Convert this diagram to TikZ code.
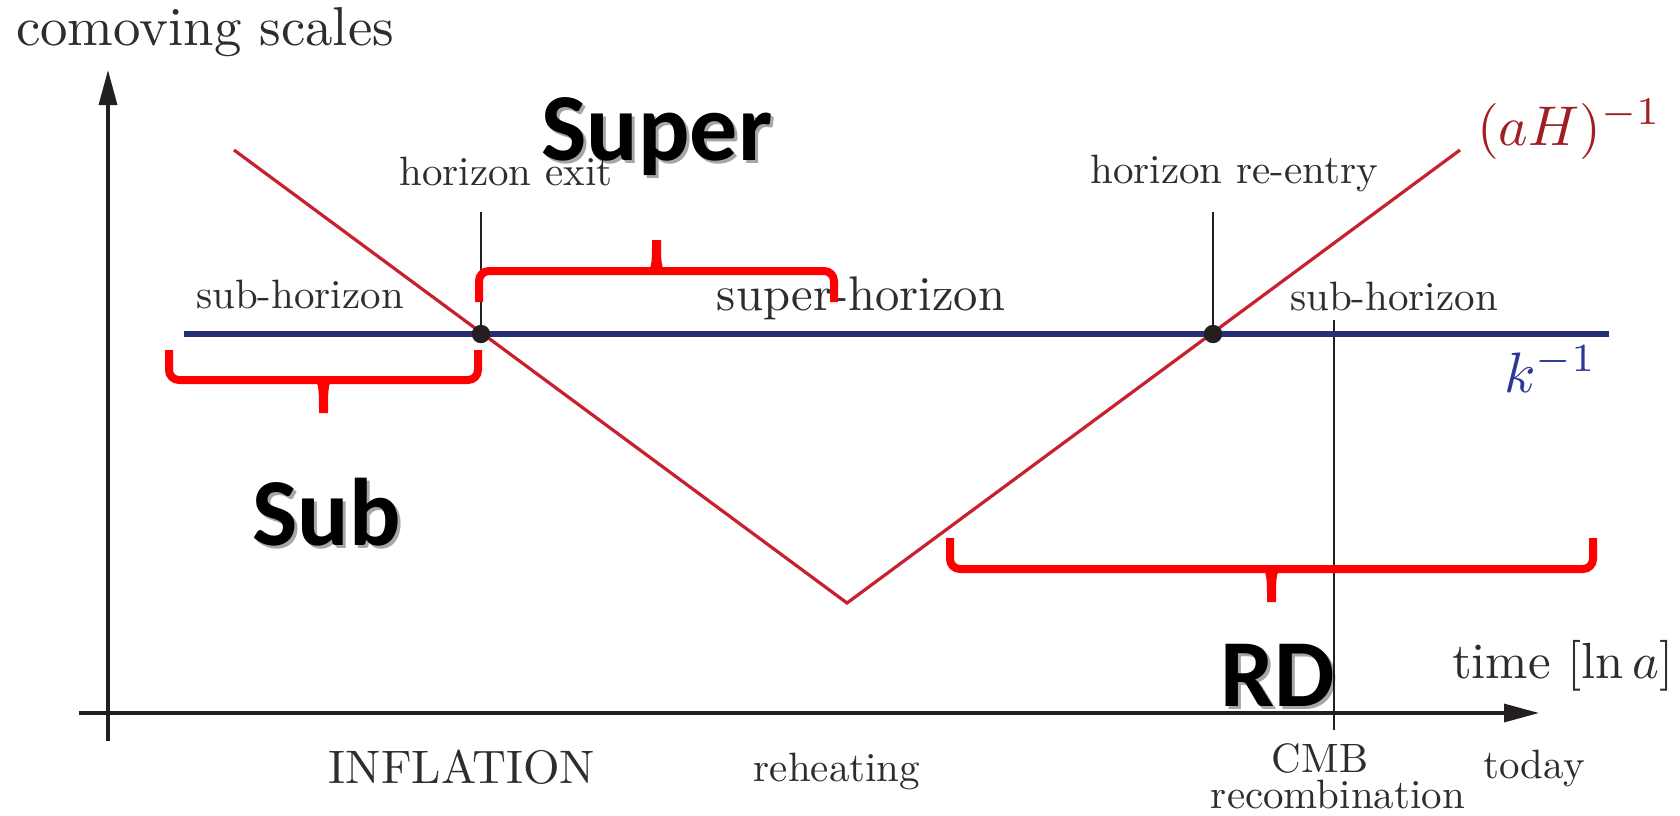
\documentclass[tikz,border=0pt]{standalone}
\usepackage{fontspec}
\newfontfamily\calib{Carlito}
\usetikzlibrary{arrows.meta}
\definecolor{hred}{RGB}{200,32,45}
\definecolor{hredtext}{RGB}{160,30,36}
\definecolor{kblue}{RGB}{40,46,120}
\definecolor{kbluetext}{RGB}{45,55,150}
\definecolor{axisgray}{RGB}{35,31,32}
\definecolor{txtgray}{RGB}{45,45,45}
\definecolor{bracered}{RGB}{255,0,0}
\newcommand{\redbrace}[5]{%
  \draw[bracestyle] (#1,#3) -- (#1,#4) -- (#2,#4) -- (#2,#3);
  \fill[bracered] ({(#1+#2)/2-11},#4) .. controls ({(#1+#2)/2-4.5},#4) and ({(#1+#2)/2-4.5},{#4+0.3*(#5-#4)}) .. ({(#1+#2)/2-4.5},#5)
     -- ({(#1+#2)/2+4.5},#5) .. controls ({(#1+#2)/2+4.5},{#4+0.3*(#5-#4)}) and ({(#1+#2)/2+4.5},#4) .. ({(#1+#2)/2+11},#4) -- cycle;
}
\begin{document}
\begin{tikzpicture}[x=0.5pt,y=-0.5pt,
  axisline/.style={draw=axisgray, line width=1.65pt, -{Triangle[length=17.5pt,width=9pt]}},
  hline/.style={draw=hred, line width=1.6pt},
  kline/.style={draw=kblue, line width=3pt},
  thinline/.style={draw=axisgray, line width=0.9pt},
  dotstyle/.style={fill=axisgray},
  bracestyle/.style={draw=bracered, line width=4pt, rounded corners=5pt},
  lbl/.style={inner sep=0pt, text=txtgray, anchor=base, scale=2.05},
  bigbold/.style={inner sep=0pt, anchor=base west, font=\calib\bfseries\fontsize{48}{50}\selectfont},
  shadowtxt/.style={bigbold, text=black, opacity=0.35}
]
\useasboundingbox (0,0) rectangle (1680,815);

% coordinates
\coordinate (yb) at (108,741);
\coordinate (yt) at (108,70);
\coordinate (xl) at (79,713);
\coordinate (xr) at (1539,713);
\coordinate (r1) at (234,150);
\coordinate (rv) at (847,603);
\coordinate (r2) at (1460,150);
\coordinate (b1) at (184,334);
\coordinate (b2) at (1609,334);
\coordinate (exitdot) at (481,334);
\coordinate (exittop) at (481,212);
\coordinate (redot) at (1213,334);
\coordinate (retop) at (1213,212);
\coordinate (cmbtop) at (1334,320);
\coordinate (cmbbot) at (1334,730);

% axes
\draw[axisline] (yb) -- (yt);
\draw[axisline] (xl) -- (xr);

% thin markers
\draw[thinline] (exittop) -- (exitdot);
\draw[thinline] (retop) -- (redot);
\draw[thinline] (cmbtop) -- (cmbbot);

% curves
\draw[hline] (r1) -- (rv) -- (r2);
\draw[kline] (b1) -- (b2);
\fill[dotstyle] (exitdot) circle (4.6pt);
\fill[dotstyle] (redot) circle (4.6pt);

% labels
\node[inner sep=0pt, text=txtgray, anchor=base west, scale=2.74] (comov) at (15,45) {comoving scales};
\node[lbl] (hexit) at (506,185) {horizon exit};
\node[lbl] (hreentry) at (1234,183) {horizon re-entry};
\node[lbl] (subl) at (300,308) {sub-horizon};
\node[lbl, scale=2.43/2.05] (superh) at (861,310) {super-horizon};
\node[lbl] (subr) at (1394,310) {sub-horizon};
\node[inner sep=0pt, anchor=base west, text=hredtext, scale=2.8] (aH) at (1476,145) {$(aH)^{-1}$};
\node[inner sep=0pt, anchor=base west, text=kbluetext, scale=2.85] (kinv) at (1503,392) {$k^{-1}$};
\node[inner sep=0pt, anchor=base west, text=txtgray, scale=2.54] (timelbl) at (1451,678) {time $[\ln a]$};
\node[lbl, scale=2.35/2.05] (infl) at (462,783) {INFLATION};
\node[lbl] (reheat) at (837,781) {reheating};
\node[lbl] (cmb) at (1320,772) {CMB};
\node[lbl] (recomb) at (1338,808) {recombination};
\node[lbl] (today) at (1534,778) {today};

% red braces
\redbrace{169}{478}{350}{380}{413}
\redbrace{479}{834}{302}{271}{240}
\redbrace{950}{1593}{538}{569}{602}

% bold annotations with soft shadow
\node[shadowtxt] at (544,163) {Super};
\node[bigbold] (super) at (541,160) {Super};
\node[shadowtxt] at (255,548) {Sub};
\node[bigbold] (sub) at (252,545) {Sub};
\node[shadowtxt] at (1223,709) {RD};
\node[bigbold] (rd) at (1220,706) {RD};
\end{tikzpicture}
\end{document}
